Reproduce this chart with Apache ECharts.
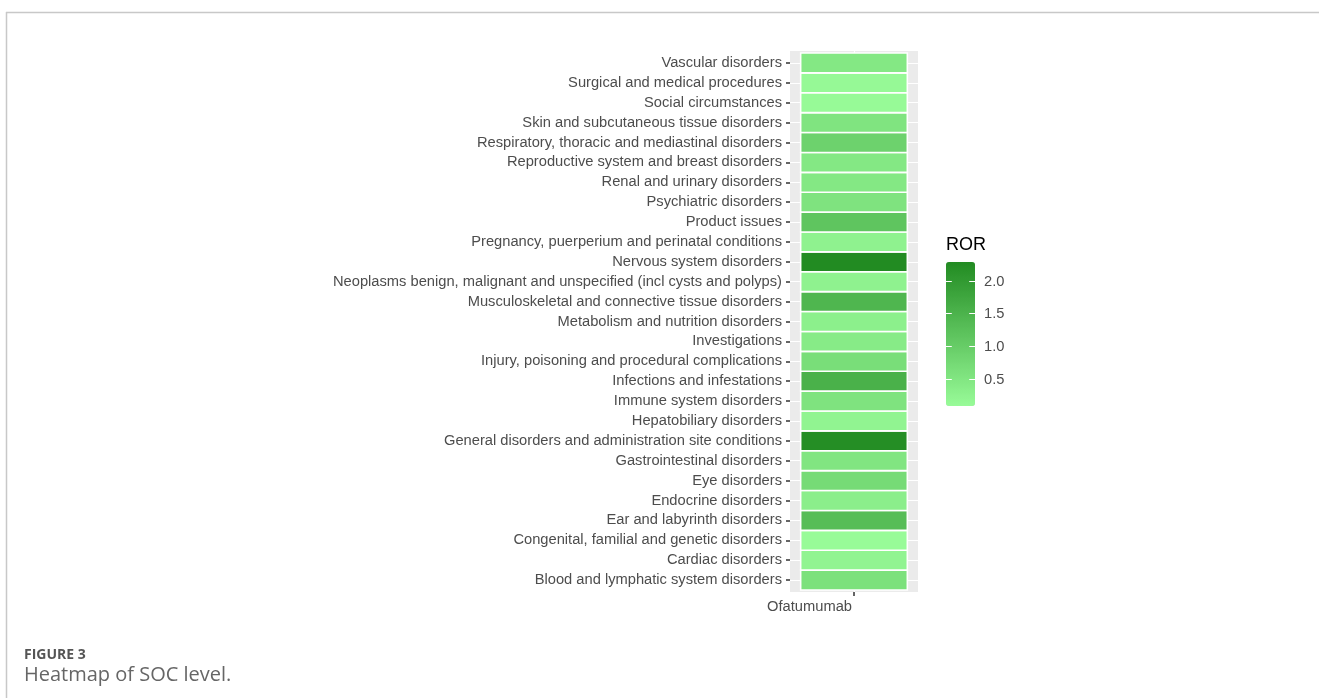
<!DOCTYPE html>
<html>
<head>
<meta charset="utf-8">
<title>Heatmap of SOC level</title>
<script src="https://cdn.jsdelivr.net/npm/echarts@6/dist/echarts.min.js"></script>
<style>
  html, body { margin: 0; padding: 0; background: #ffffff; }
  #chart { width: 1319px; height: 698px; }
</style>
</head>
<body>
<div id="chart"></div>
<script>
// System organ classes, listed bottom to top as they appear on the y axis
const socCategories = [
  'Blood and lymphatic system disorders',
  'Cardiac disorders',
  'Congenital, familial and genetic disorders',
  'Ear and labyrinth disorders',
  'Endocrine disorders',
  'Eye disorders',
  'Gastrointestinal disorders',
  'General disorders and administration site conditions',
  'Hepatobiliary disorders',
  'Immune system disorders',
  'Infections and infestations',
  'Injury, poisoning and procedural complications',
  'Investigations',
  'Metabolism and nutrition disorders',
  'Musculoskeletal and connective tissue disorders',
  'Neoplasms benign, malignant and unspecified (incl cysts and polyps)',
  'Nervous system disorders',
  'Pregnancy, puerperium and perinatal conditions',
  'Product issues',
  'Psychiatric disorders',
  'Renal and urinary disorders',
  'Reproductive system and breast disorders',
  'Respiratory, thoracic and mediastinal disorders',
  'Skin and subcutaneous tissue disorders',
  'Social circumstances',
  'Surgical and medical procedures',
  'Vascular disorders'
];

const drugs = ['Ofatumumab'];

// Reporting odds ratio per SOC (same order as socCategories)
const rorValues = [
  0.60, 0.22, 0.08, 1.30, 0.33, 0.72, 0.52, 2.23, 0.22, 0.55,
  1.55, 0.66, 0.40, 0.30, 1.45, 0.25, 2.29, 0.25, 1.15, 0.55,
  0.45, 0.46, 0.89, 0.53, 0.10, 0.12, 0.46
];

const legendTicks = [0.5, 1.0, 1.5, 2.0];
const legendTickLabels = ['0.5', '1.0', '1.5', '2.0'];

const rorMin = Math.min.apply(null, rorValues);
const rorMax = Math.max.apply(null, rorValues);

const cells = rorValues.map((v, i) => [1, i + 1, v]);

const chart = echarts.init(document.getElementById('chart'), null, { renderer: 'canvas' });

const labelFont = '"Liberation Sans", Arial, sans-serif';

// colour bar geometry
const barLeft = 946, barTop = 262, barW = 29, barH = 144;
const barY = v => barTop + (rorMax - v) / (rorMax - rorMin) * barH;

const legendGraphics = [];
legendTicks.forEach((t, i) => {
  const y = Math.round(barY(t)) + 0.5;
  legendGraphics.push({
    type: 'line', z: 100,
    shape: { x1: barLeft, y1: y, x2: barLeft + 5.8, y2: y },
    style: { stroke: '#ffffff', lineWidth: 1 }
  });
  legendGraphics.push({
    type: 'line', z: 100,
    shape: { x1: barLeft + barW - 5.8, y1: y, x2: barLeft + barW, y2: y },
    style: { stroke: '#ffffff', lineWidth: 1 }
  });
  legendGraphics.push({
    type: 'text', z: 100, x: 984, y: y,
    style: {
      text: legendTickLabels[i], fill: '#4d4d4d',
      font: '14.7px ' + labelFont,
      textVerticalAlign: 'middle', textAlign: 'left'
    }
  });
});

const option = {
  backgroundColor: '#ffffff',
  animation: false,
  grid: {
    left: 790, top: 51, width: 128, height: 541,
    show: true, backgroundColor: '#ebebeb', borderWidth: 0,
    containLabel: false
  },
  xAxis: {
    type: 'value', min: 0.4, max: 1.6,
    axisLine: { show: false },
    axisTick: { show: true, length: 4, customValues: [1], lineStyle: { color: '#333333', width: 1.5 } },
    axisLabel: {
      customValues: [1], margin: 7, align: 'right', padding: [0, 2, 0, 0],
      color: '#4d4d4d', fontSize: 14.7, fontFamily: labelFont,
      formatter: v => drugs[Math.round(v) - 1] || ''
    },
    splitLine: { show: true, lineStyle: { color: '#ffffff', width: 1.1 } }
  },
  yAxis: {
    type: 'value', min: 0.4, max: socCategories.length + 0.6,
    axisLine: { show: false },
    axisTick: {
      show: true, length: 4,
      customValues: socCategories.map((c, i) => i + 1),
      lineStyle: { color: '#333333', width: 1.5 }
    },
    axisLabel: {
      customValues: socCategories.map((c, i) => i + 1), margin: 8,
      color: '#4d4d4d', fontSize: 14.7, fontFamily: labelFont,
      formatter: v => socCategories[Math.round(v) - 1] || ''
    },
    splitLine: { show: true, lineStyle: { color: '#ffffff', width: 1.1 } }
  },
  visualMap: {
    type: 'continuous',
    min: rorMin, max: rorMax,
    dimension: 2, seriesIndex: 0,
    calculable: false, hoverLink: false,
    left: barLeft, top: barTop,
    itemWidth: barW, itemHeight: barH,
    padding: 0, text: null, showLabel: false,
    inRange: { color: ['#98fb98', '#228b22'] }
  },
  series: [{
    type: 'custom',
    data: cells,
    encode: { x: 0, y: 1 },
    renderItem: (params, api) => {
      const x = api.value(0), y = api.value(1);
      const p0 = api.coord([x - 0.5, y + 0.5]);
      const p1 = api.coord([x + 0.5, y - 0.5]);
      return {
        type: 'rect',
        shape: { x: p0[0], y: p0[1], width: p1[0] - p0[0], height: p1[1] - p0[1] },
        style: { fill: api.visual('color'), stroke: '#ffffff', lineWidth: 1.6 }
      };
    }
  }],
  graphic: [
    // page frame
    { type: 'line', shape: { x1: 6, y1: 12.5, x2: 1319, y2: 12.5 }, style: { stroke: '#c8c8c8', lineWidth: 1.5 } },
    { type: 'line', shape: { x1: 6.5, y1: 12, x2: 6.5, y2: 698 }, style: { stroke: '#c8c8c8', lineWidth: 1.5 } },
    // legend title
    {
      type: 'text', x: 946, y: 245,
      style: { text: 'ROR', fill: '#000000', font: '18px ' + labelFont, textVerticalAlign: 'middle' }
    },
    // figure caption
    {
      type: 'text', x: 24, y: 655,
      style: { text: 'FIGURE 3', fill: '#555555', font: 'bold 14px "Open Sans", sans-serif', textVerticalAlign: 'middle' }
    },
    {
      type: 'text', x: 24, y: 675,
      style: { text: 'Heatmap of SOC level.', fill: '#666666', font: '20px "Open Sans", sans-serif', textVerticalAlign: 'middle' }
    }
  ].concat(legendGraphics)
};

chart.setOption(option);
</script>
</body>
</html>
